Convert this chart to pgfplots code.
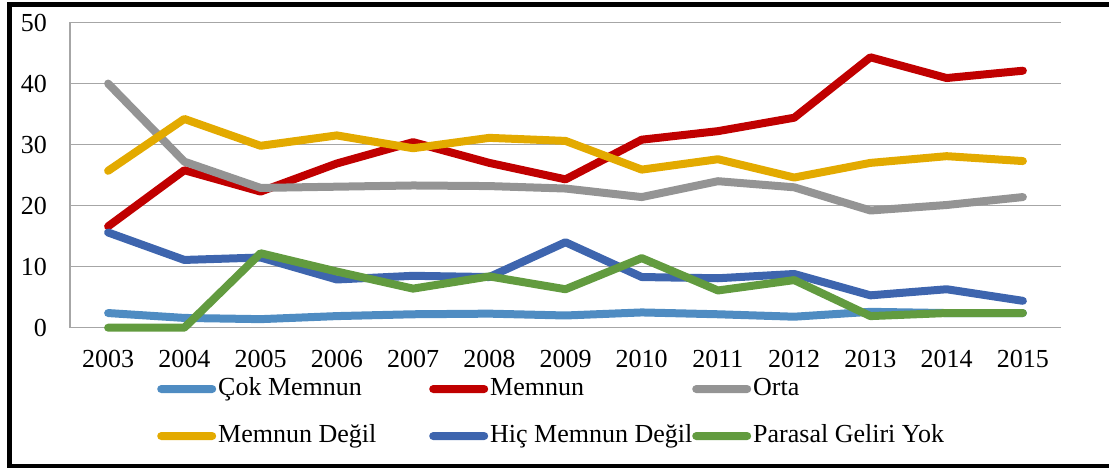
\documentclass[border=0pt]{standalone}
\usepackage{fontspec}
\setmainfont{Liberation Serif}
\usepackage{pgfplots}
\pgfplotsset{compat=1.18}
\usepackage{pgfplotstable}
\definecolor{cLB}{HTML}{4F8CC2}
\definecolor{cRed}{HTML}{C00000}
\definecolor{cGray}{HTML}{949494}
\definecolor{cYel}{HTML}{E3AA00}
\definecolor{cDB}{HTML}{3E65AE}
\definecolor{cGr}{HTML}{629B3F}
\definecolor{gridc}{HTML}{A6A6A6}
\pgfplotstableread{
x cok memnun orta degil hic parasal
0  2.4 16.6 40.0 25.7 15.6  0.0
1  1.6 25.8 27.2 34.2 11.1  0.0
2  1.4 22.3 22.9 29.8 11.5 12.2
3  1.9 26.9 23.1 31.5  7.9  9.2
4  2.2 30.4 23.3 29.4  8.5  6.4
5  2.3 27.0 23.2 31.1  8.3  8.4
6  2.0 24.3 22.8 30.6 14.0  6.3
7  2.5 30.8 21.4 25.9  8.3 11.4
8  2.2 32.2 24.0 27.6  8.1  6.1
9  1.8 34.4 23.0 24.6  8.8  7.8
10 2.6 44.3 19.2 27.0  5.3  1.9
11 2.4 40.9 20.1 28.1  6.3  2.4
12 2.4 42.1 21.4 27.3  4.4  2.4
}\datatable
\begin{document}
\begin{tikzpicture}[x=1pt,y=1pt]
\useasboundingbox (0,0) rectangle (1109,468);
\draw[line width=4.5pt] (1115,463.5) -- (9.5,463.5) -- (9.5,2) -- (1115,2);
\begin{axis}[
  at={(70pt,140.3pt)}, anchor=south west,
  scale only axis, width=991pt, height=305.2pt,
  xmin=-0.5, xmax=12.5, ymin=0, ymax=50,
  xtick={0,...,12},
  xticklabels={2003,2004,2005,2006,2007,2008,2009,2010,2011,2012,2013,2014,2015},
  ytick={0,10,...,50},
  axis lines=left,
  axis line style={-, draw=gridc, line width=1.5pt},
  ymajorgrids, grid style={draw=gridc, line width=1.5pt},
  major tick length=0pt,
  /pgf/number format/assume math mode=true,
  tick label style={font=\fontsize{26}{31}\selectfont, inner sep=0pt},
  xticklabel style={anchor=north, yshift=-22pt},
  yticklabel style={anchor=east, xshift=-23pt},
  clip=false,
  every axis plot/.append style={line width=8pt, line join=round, line cap=round},
  legend columns=3,
  legend style={at={(0.0878,-0.278)}, anchor=west, draw=none, fill=none, inner sep=0pt,
    font=\rmfamily\fontsize{26}{31}\selectfont,
    nodes={inner sep=0pt, text height=19pt, text depth=7pt},
    row sep=21pt, column sep=0pt},
  legend cell align=left,
  legend image code/.code={
    \fill[#1, draw=none, rounded corners=4pt] (0pt,-4pt) rectangle (59pt,4pt);
  },
]
\addplot[cLB] table[x=x,y=cok] {\datatable};
\addlegendentry{\makebox[213pt][l]{\hspace{2pt}Çok Memnun}}
\addplot[cRed] table[x=x,y=memnun] {\datatable};
\addlegendentry{\makebox[204pt][l]{\hspace{2pt}Memnun}}
\addplot[cGray] table[x=x,y=orta] {\datatable};
\addlegendentry{\hspace{2pt}Orta}
\addplot[cYel] table[x=x,y=degil] {\datatable};
\addlegendentry{\makebox[213pt][l]{\hspace{2pt}Memnun Değil}}
\addplot[cDB] table[x=x,y=hic] {\datatable};
\addlegendentry{\makebox[204pt][l]{\hspace{2pt}Hiç Memnun Değil}}
\addplot[cGr] table[x=x,y=parasal] {\datatable};
\addlegendentry{\hspace{2pt}Parasal Geliri Yok}
\end{axis}
\end{tikzpicture}
\end{document}
